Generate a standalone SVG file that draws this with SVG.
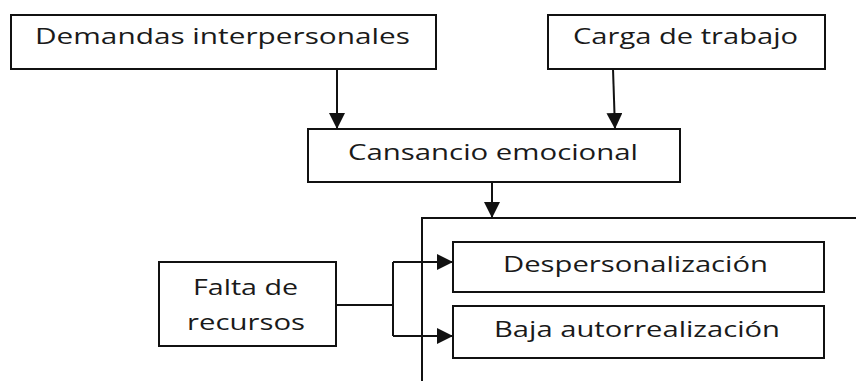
<svg xmlns="http://www.w3.org/2000/svg" width="856" height="381" viewBox="0 0 856 381">
<style>
.box{fill:#fff;stroke:#111;stroke-width:2}
.lbl{font-family:"Open Sans","Liberation Sans",sans-serif;font-size:21px;fill:#1a1a1a;text-anchor:middle}
.con{fill:none;stroke:#111;stroke-width:2}
</style>
<defs>
<marker id="ah" markerUnits="userSpaceOnUse" markerWidth="16" markerHeight="16" viewBox="0 0 16 16" refX="16" refY="8" orient="auto">
<path d="M0,0 L16,8 L0,16 z" fill="#111"/>
</marker>
</defs>
<rect width="856" height="381" fill="#fff"/>
<g id="frame"><path class="con" d="M422,381 V218 H856"/></g>
<g id="demandas"><rect class="box" x="11" y="15" width="425" height="54"/><text class="lbl" x="222.5" y="44" textLength="375" lengthAdjust="spacingAndGlyphs">Demandas interpersonales</text></g>
<g id="carga"><rect class="box" x="548" y="15" width="277" height="54"/><text class="lbl" x="685.5" y="44" textLength="225" lengthAdjust="spacingAndGlyphs">Carga de trabajo</text></g>
<g id="cansancio"><rect class="box" x="308" y="129" width="372" height="53"/><text class="lbl" x="493" y="160" textLength="290" lengthAdjust="spacingAndGlyphs">Cansancio emocional</text></g>
<g id="falta"><rect class="box" x="159" y="262" width="177" height="84"/><text class="lbl" x="245.5" y="295" textLength="105" lengthAdjust="spacingAndGlyphs">Falta de</text><text class="lbl" x="246" y="330" textLength="118" lengthAdjust="spacingAndGlyphs">recursos</text></g>
<g id="despersonalizacion"><rect class="box" x="453" y="242" width="371" height="50"/><text class="lbl" x="635.5" y="272" textLength="265" lengthAdjust="spacingAndGlyphs">Despersonalización</text></g>
<g id="baja"><rect class="box" x="453" y="306" width="371" height="52"/><text class="lbl" x="637" y="337" textLength="286" lengthAdjust="spacingAndGlyphs">Baja autorrealización</text></g>
<g id="connectors">
<line class="con" x1="337" y1="69" x2="337" y2="129" marker-end="url(#ah)"/>
<line class="con" x1="613" y1="69" x2="615" y2="129" marker-end="url(#ah)"/>
<line class="con" x1="492" y1="182" x2="492" y2="218" marker-end="url(#ah)"/>
<path class="con" d="M336,305 H393"/>
<path class="con" d="M393,262 V336"/>
<line class="con" x1="393" y1="262" x2="453" y2="262" marker-end="url(#ah)"/>
<line class="con" x1="393" y1="336" x2="453" y2="336" marker-end="url(#ah)"/>
</g>
</svg>
